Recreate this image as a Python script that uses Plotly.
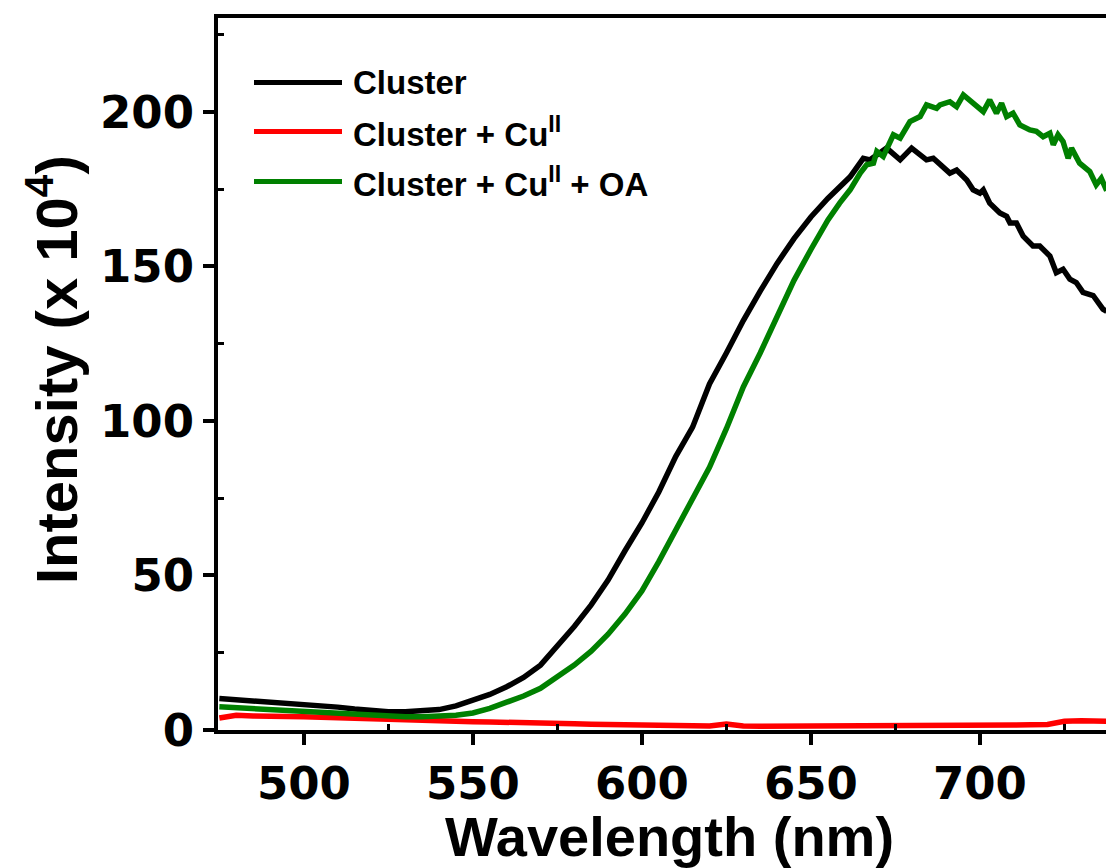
import plotly.graph_objects as go

# ---- Data ----
# Cluster
cluster_wl = [475, 480, 485, 490, 495, 500, 505, 510, 515, 520, 525, 530, 535, 540, 545, 550,
              555, 560, 565, 570, 575, 580, 585, 590, 595, 600, 605, 610, 615, 620, 625, 630,
              635, 640, 645, 650, 655, 658.5,
              661.6, 665.5, 667.5, 672.4, 676.4, 679.8, 684.2, 686.2, 689.2, 691.1, 693.1, 696.1,
              698.0, 700.0, 701.0, 702.9, 705.9, 707.9, 708.9, 710.8, 712.8, 715.7, 717.7, 720.7,
              722.6, 724.6, 726.6, 728.5, 730.5, 733.5, 736.4, 737.5]
cluster = [10.2, 9.8, 9.3, 9.0, 8.7, 8.5, 7.9, 7.4, 6.8, 6.3, 5.9, 5.9, 6.1, 6.6, 7.8, 9.7,
           11.5, 14.0, 17.0, 21.0, 27.0, 33.5, 40.5, 48.5, 58.0, 67.0, 77.0, 88.5, 98.0, 112.0, 122.0, 132.5,
           142.0, 151.0, 159.0, 166.0, 172.0, 175.5,
           179.0, 185.0, 184.5, 188.3, 184.5, 188.3, 184.5, 185.0, 181.8, 180.2, 181.2, 178.0,
           174.8, 173.7, 174.8, 170.5, 167.3, 166.2, 164.1, 164.1, 159.8, 156.6, 156.6, 153.4,
           148.0, 149.1, 145.9, 144.8, 141.6, 140.6, 136.2, 135.5]

# Cluster + Cu(II)
cluster_cu_wl = [475, 480, 485, 490, 495, 500, 505, 510, 515, 520, 525, 530, 535, 540, 545, 550,
                 555, 560, 565, 570, 575, 580, 585, 590, 595, 600, 605, 610, 615, 620, 625, 630,
                 635, 640, 645, 650, 655, 660, 665, 670, 675, 680, 685, 690, 695, 700, 705, 710,
                 715, 720, 725, 730, 737.5]
cluster_cu = [3.9, 4.8, 4.5, 4.6, 4.4, 4.3, 4.1, 3.9, 3.7, 3.5, 3.3, 3.2, 3.1, 3.0, 2.8, 2.7,
              2.6, 2.4, 2.3, 2.2, 2.1, 2.0, 1.9, 1.8, 1.7, 1.6, 1.5, 1.4, 1.4, 1.3, 1.9, 1.3,
              1.2, 1.2, 1.3, 1.4, 1.3, 1.2, 1.3, 1.3, 1.4, 1.5, 1.4, 1.4, 1.5, 1.5, 1.6, 1.6,
              1.7, 1.8, 2.8, 3.0, 2.8]

# Cluster + Cu(II) + OA
cluster_cu_oa_wl = [475, 480, 485, 490, 495, 500, 505, 510, 515, 520, 525, 530, 535, 540, 545, 550,
                    555, 560, 565, 570, 575, 580, 585, 590, 595, 600, 605, 610, 615, 620, 625, 630,
                    635, 640, 645, 650, 655, 658.5,
                    661.6, 664.6, 666.5, 668.5, 669.5, 671.4, 674.4, 676.4, 678.3, 679.3, 682.3, 684.2,
                    687.2, 688.2, 691.1, 693.1, 695.1, 697.0, 701.0, 702.9, 704.9, 706.4, 707.9, 709.8,
                    711.8, 714.8, 716.7, 718.7, 720.7, 721.7, 723.1, 724.6, 726.1, 727.1, 729.5, 732.5,
                    734.4, 735.9, 737.5]
cluster_cu_oa = [7.5, 7.2, 6.8, 6.5, 6.2, 5.9, 5.5, 5.2, 4.8, 4.6, 4.4, 4.3, 4.3, 4.4, 4.8, 5.5,
                 7.0, 9.0, 11.0, 13.5, 17.0, 21.0, 25.5, 31.0, 37.5, 45.0, 54.5, 64.5, 75.0, 85.0, 97.5, 111.0,
                 122.0, 133.5, 145.5, 155.5, 165.0, 170.5,
                 174.8, 180.2, 182.9, 183.4, 187.2, 185.6, 192.6, 191.5, 195.3, 196.9, 198.5, 202.3,
                 201.2, 202.3, 203.3, 201.7, 205.5, 203.9, 200.1, 203.9, 199.6, 202.8, 198.5, 199.6,
                 195.8, 194.2, 193.7, 192.0, 193.1, 189.4, 192.6, 190.4, 185.0, 188.3, 183.4, 180.7,
                 176.4, 178.5, 174.5]

series_names = ["Cluster", "Cluster + Cu<sup>II</sup>", "Cluster + Cu<sup>II</sup> + OA"]
series_colors = ["#000000", "#FF0000", "#008000"]
series_x = [cluster_wl, cluster_cu_wl, cluster_cu_oa_wl]
series_values = [cluster, cluster_cu, cluster_cu_oa]

x_ticks = [500, 550, 600, 650, 700]
y_ticks = [0, 50, 100, 150, 200]

fig = go.Figure()
for name, col, xs, vals in zip(series_names, series_colors, series_x, series_values):
    fig.add_trace(go.Scatter(x=xs, y=vals, mode="lines", name=name,
                             line=dict(color=col, width=5.5), showlegend=False))

# Manual legend (long line samples as in the reference)
legend_y = [82.5, 131.5, 181.5]  # pixel rows
plot_top, plot_bot, plot_left, plot_right = 18, 730, 218, 1106
ph = plot_bot - plot_top
pw = plot_right - plot_left
def px2x(px):
    return (px - plot_left) / pw
def py2y(py):
    return (plot_bot - py) / ph

shapes = []
annotations = []
for name, col, ly in zip(series_names, series_colors, legend_y):
    shapes.append(dict(type="line", xref="paper", yref="paper",
                       x0=px2x(254), x1=px2x(342), y0=py2y(ly), y1=py2y(ly),
                       line=dict(color=col, width=5)))
    annotations.append(dict(text=name, xref="paper", yref="paper",
                            x=px2x(351), y=py2y(ly), xanchor="left", yanchor="middle",
                            showarrow=False,
                            font=dict(family="Liberation Sans", size=33, color="black", weight="bold")))

annotations.append(dict(text="<b>Wavelength (nm)</b>", xref="paper", yref="paper",
                        x=px2x(669), y=py2y(836), xanchor="center", yanchor="middle",
                        showarrow=False,
                        font=dict(family="Liberation Sans", size=56, color="black")))
annotations.append(dict(text="<b>Intensity (x 10<sup>4</sup>)</b>", xref="paper", yref="paper",
                        x=px2x(52), y=py2y(370), xanchor="center", yanchor="middle",
                        textangle=-90, showarrow=False,
                        font=dict(family="Liberation Sans", size=58, color="black")))

fig.update_layout(
    width=1106, height=868,
    margin=dict(l=plot_left, r=0, t=plot_top, b=868 - plot_bot),
    plot_bgcolor="white", paper_bgcolor="white",
    shapes=shapes, annotations=annotations,
    xaxis=dict(range=[474.6, 737.3], tickvals=x_ticks, ticktext=[str(v) for v in x_ticks],
               showgrid=False, zeroline=False, showline=True, linecolor="black", linewidth=4,
               mirror=True, ticks="outside", ticklen=11, tickwidth=4, tickcolor="black",
               tickfont=dict(family="DejaVu Sans", size=45, color="black", weight="bold"),
               minor=dict(tickvals=[525, 575, 625, 675, 725], ticks="inside", ticklen=6,
                          tickwidth=3, tickcolor="black")),
    yaxis=dict(range=[0, 230.4], tickvals=y_ticks, ticktext=[str(v) for v in y_ticks],
               showgrid=False, zeroline=False, showline=True, linecolor="black", linewidth=4,
               ticks="outside", ticklen=11, tickwidth=4, tickcolor="black",
               tickfont=dict(family="DejaVu Sans", size=45, color="black", weight="bold"),
               minor=dict(tickvals=[25, 75, 125, 175, 225], ticks="inside", ticklen=6,
                          tickwidth=3, tickcolor="black")),
)

fig.write_html("out.html")
